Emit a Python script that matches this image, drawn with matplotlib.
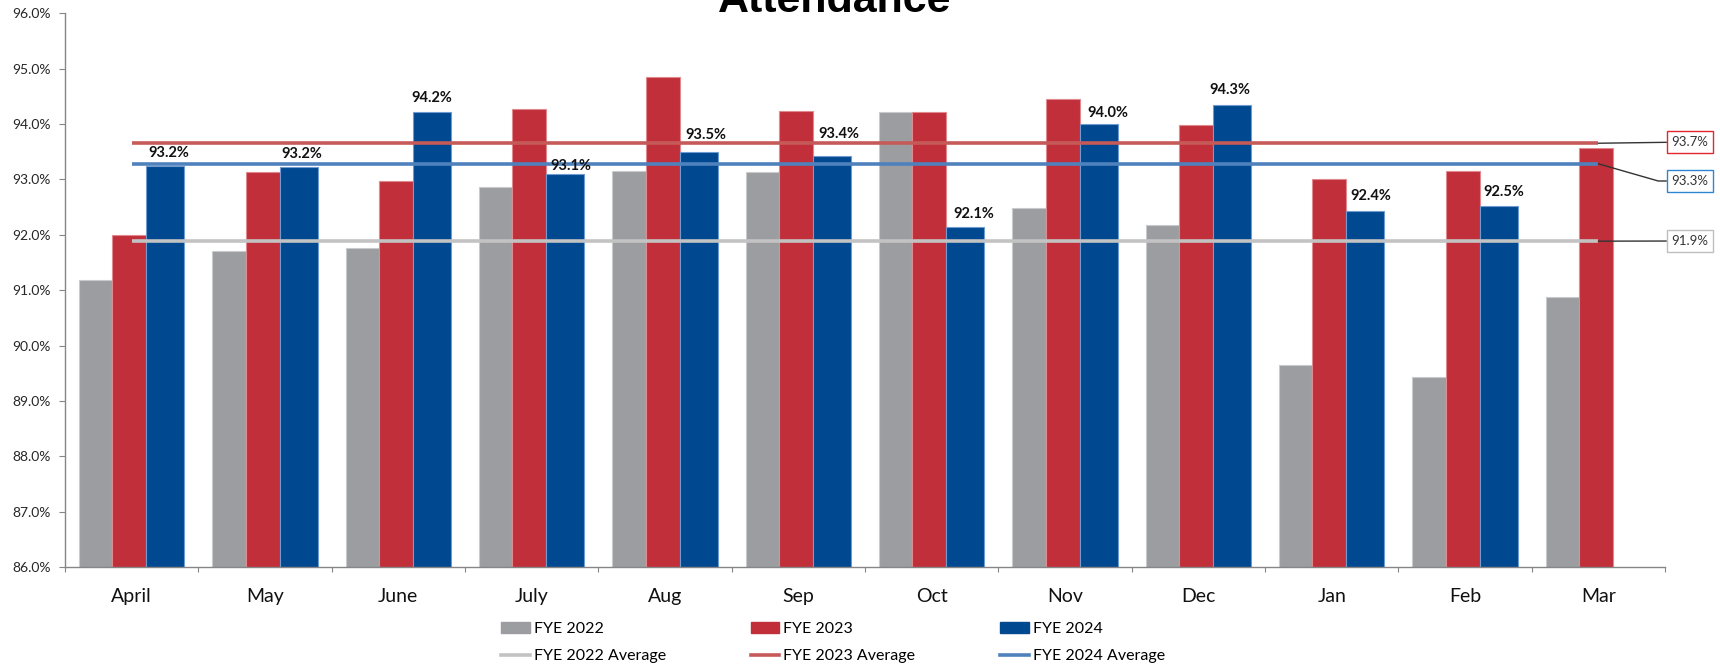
import matplotlib.pyplot as plt
from matplotlib.patches import Patch
from matplotlib.lines import Line2D
import numpy as np

# data
months = ['April', 'May', 'June', 'July', 'Aug', 'Sep', 'Oct', 'Nov', 'Dec', 'Jan', 'Feb', 'Mar']
fye_2022 = [91.18, 91.70, 91.77, 92.86, 93.16, 93.13, 94.21, 92.48, 92.18, 89.64, 89.43, 90.88]
fye_2023 = [91.99, 93.13, 92.97, 94.28, 94.85, 94.23, 94.22, 94.46, 93.98, 93.00, 93.16, 93.57]
fye_2024 = [93.24, 93.22, 94.21, 93.09, 93.49, 93.42, 92.14, 94.00, 94.34, 92.43, 92.52, np.nan]
series_names = ['FYE 2022', 'FYE 2023', 'FYE 2024']

# colours
bar_cols = ['#9C9DA1', '#C12F3A', '#004990']
bar_edges = ['#C9CACC', '#E08A90', '#6F9BD1']
avg_cols = ['#C3C3C3', '#C65A59', '#4F81BD']
box_cols = ['#BFBFBF', '#E3262E', '#2E86D3']

# hand nudges (pixels) of the blue value labels, as placed in the original
label_nudge = [(3.5, 9), (3, 9), (0, 10.5), (6, 4), (7.5, 13), (7, 18),
               (8.5, 9), (9, 7), (-1.5, 11), (6, 10.5), (5, 10), (0, 0)]

plt.rcParams['font.family'] = ['Lato', 'DejaVu Sans']

W, H = 1720, 667
fig = plt.figure(figsize=(W / 100, H / 100), dpi=100)
ax = fig.add_axes([65 / W, 1 - 567 / H, 1600 / W, (567 - 13.3) / H])

x = np.arange(len(months))
b22 = ax.bar(x - 0.394, fye_2022, width=0.25, align='edge', color=bar_cols[0],
             edgecolor=bar_edges[0], linewidth=0.8)
b23 = ax.bar(x - 0.144, fye_2023, width=0.253, align='edge', color=bar_cols[1],
             edgecolor=bar_edges[1], linewidth=0.8)
b24 = ax.bar(x + 0.109, fye_2024, width=0.285, align='edge', color=bar_cols[2],
             edgecolor=bar_edges[2], linewidth=0.8)

# averages
avgs = [np.nanmean(fye_2022), np.nanmean(fye_2023), np.nanmean(fye_2024)]
for a, c in zip(avgs, avg_cols):
    ax.plot([x[0], x[-1]], [a, a], color=c, lw=2.6, solid_capstyle='butt', zorder=3)

# value labels on FYE 2024
for xi, v, (dx, dy) in zip(x, fye_2024, label_nudge):
    if np.isnan(v):
        continue
    ax.annotate(f'{v:.1f}%', xy=(xi + 0.109 + 0.285 / 2, v), xytext=(dx, dy),
                textcoords='offset pixels', ha='center', va='baseline',
                fontsize=10.5, fontweight='bold', color='#111111', zorder=5)

# boxed average labels on the right
box_y = [241, 142, 181]
conn = ['arc3', 'arc3', 'angle,angleA=0,angleB=-16,rad=0']
for a, c, yy, cs in zip(avgs, box_cols, box_y, conn):
    ax.annotate(f'{a:.1f}%', xy=(x[-1], a), xytext=(1690, H - yy),
                textcoords='figure pixels', ha='center', va='center',
                fontsize=9.5, color='#333333', annotation_clip=False,
                bbox=dict(boxstyle='square,pad=0.35', fc='white', ec=c, lw=1),
                arrowprops=dict(arrowstyle='-', color='#333333', lw=1,
                                shrinkA=0, shrinkB=0, connectionstyle=cs))

ax.set_ylim(86, 96)
ax.set_yticks(np.arange(86, 96.5, 1))
ax.set_yticklabels([f'{t:.1f}%' for t in np.arange(86, 96.5, 1)])
ax.set_xlim(-0.5, len(months) - 0.5)
ax.set_xticks(np.arange(-0.5, len(months)), minor=False)
ax.set_xticklabels([])
ax.set_xticks(x, minor=True)
ax.set_xticklabels(months, minor=True, fontsize=14, color='#111111')
ax.tick_params(axis='x', which='minor', length=0, pad=15)
ax.tick_params(axis='x', which='major', length=3.6, color='#868686', direction='out')
ax.tick_params(axis='y', length=4.3, color='#868686', labelsize=10, labelcolor='#262626', pad=6)

for s in ['top', 'right']:
    ax.spines[s].set_visible(False)
for s in ['left', 'bottom']:
    ax.spines[s].set_color('#868686')
    ax.spines[s].set_linewidth(1)

fig.text(835 / W, 1 - 12 / H, 'Attendance', ha='center', va='baseline',
         fontsize=31, fontweight='bold', family=['Liberation Sans', 'DejaVu Sans'])

handles = [Patch(color=bar_cols[0]), Line2D([], [], color=avg_cols[0], lw=2.6),
           Patch(color=bar_cols[1]), Line2D([], [], color=avg_cols[1], lw=2.6),
           Patch(color=bar_cols[2]), Line2D([], [], color=avg_cols[2], lw=2.6)]
labels = ['FYE 2022', 'FYE 2022 Average', 'FYE 2023', 'FYE 2023 Average',
          'FYE 2024', 'FYE 2024 Average']
fig.legend(handles, labels, ncol=3, loc='center', bbox_to_anchor=(833 / W, 1 - 642.5 / H),
           frameon=False, fontsize=11.5, handlelength=1.8, handleheight=0.65,
           handletextpad=0.25, columnspacing=5.3, labelspacing=0.82, borderpad=0)

fig.savefig('out.png', dpi=100)
